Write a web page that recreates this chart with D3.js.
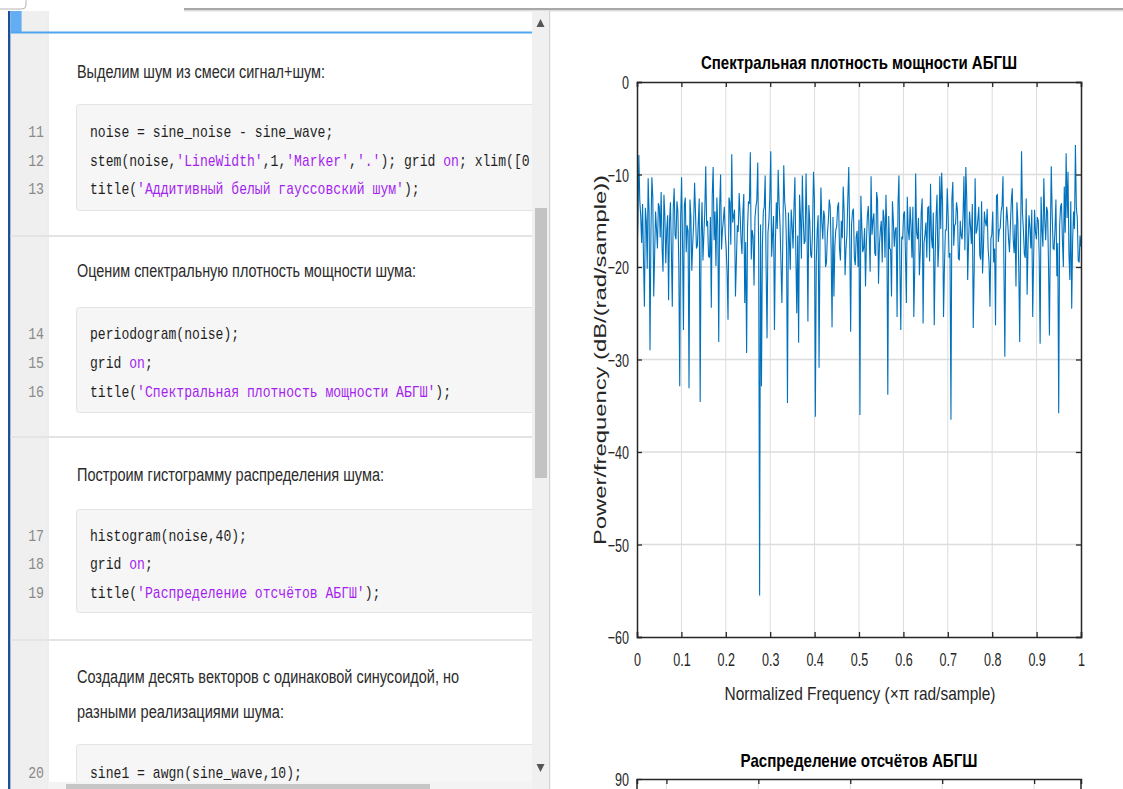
<!DOCTYPE html>
<html><head><meta charset="utf-8">
<script src="https://cdn.jsdelivr.net/npm/d3@7"></script>
<style>body{margin:0;background:#fff;overflow:hidden}svg{display:block}</style>
</head><body>
<svg id="c" width="1123" height="789"></svg>
<script>
// ---------- DATA ----------
// periodogram values (dB/(rad/sample)): main samples
const psdDbMain = [
-19,-7.9,-14.5,-13.2,-24.3,-15,-10.4,-29,-10.3,-23.2,-14,-18,-13.5,-11.9,-20.5,-14.5,-16,-23.6,-13,-24.3,
-11.5,-17,-14,-32.9,-10.3,-26.8,-12.5,-15.5,-33.1,-14.5,-17.5,-10.9,-18,-15,-34.6,-13,-16.5,-9.1,-15,-19,
-24.4,-9.2,-14,-12.5,-28.1,-10,-16,-13.5,-18,-25.7,-13,-7.8,-14.5,-23.2,-15.5,-12,-17,-14,-23.9,-29.3,
-12.9,-7.6,-16,-22,-13.5,-8.7,-55.5,-32.9,-14,-10.1,-27.7,-15,-7.5,-16.5,-26.8,-13,-9.5,-15.5,-23.9,-9,
-14,-34.7,-17,-13.8,-18,-10.3,-25,-28.2,-14.5,-10.1,-17.5,-9.9,-25.9,-15,-19,-9.7,-36.2,-16,-30.9,-11.4,
-17,-14.6,-19.5,-15,-13.5,-26.5,-23.2,-16,-13.5,-18,-15,-11.3,-20.9,-16.5,-9.2,-27,-14,-19,-16.7,-20,
-36,-15.5,-18,-22.1,-14.5,-16.5,-10.2,-15,-18.5,-11.9,-21.8,-16,-19.5,-14.7,-12.2,-33.8,-18,-23.2,-15,-16,
-25.4,-10.1,-26.8,-17,-14,-23.9,-16,-13.5,-19,-25.4,-9.9,-17,-20.9,-14,-26.1,-16.5,-19,-13.5,-11,-18,
-26.3,-14.5,-20,-10.2,-9.8,-25.4,-16,-11.5,-19,-36.5,-10.8,-15.5,-13,-19.1,-15,-17,-10.2,-9.2,-21.4,-14,
-17.5,-26.6,-10.4,-16,-13.5,-19.2,-20.7,-14,-15.6,-18,-24.3,-16.5,-19.5,-26.3,-12.2,-16,-14,-10.2,-29.7,-13.5,
-17,-15.5,-11.5,-18.5,-22.1,-15,-28.1,-7.5,-16,-19,-23,-14.4,-18,-25.4,-13.8,-17,-15,-28.3,-16,-10.4,
-17.1,-14,-27.4,-9.1,-18,-16,-21,-35.8,-13.5,-17.1,-11.3,-7.7,-9.7,-21.4,-24.5,-14,-6.8,-14.7,-19.5,-17.8
];
// in-between samples (one between each pair of main samples)
const psdDbMid = [
-15.2,-12.8,-17.4,-19.1,-13.6,-20.2,-14.1,-16.3,-12.4,-18.7,-15.9,-13.1,-16.8,-17.9,-12.2,-19.6,-14.4,-15.1,-18.2,-13.7,
-16.6,-12.9,-19.8,-14.8,-17.2,-13.3,-18.4,-16.1,-12.7,-20.4,-15.3,-14.2,-17.7,-12.6,-16.9,-19.3,-13.9,-15.6,-18.8,-14.6,
-12.3,-17.1,-19.9,-15.7,-13.4,-18.1,-14.9,-16.4,-20.6,-12.5,-17.6,-15.2,-13.8,-19.4,-16.2,-14.3,-18.6,-12.1,-17.3,-15.8,
-13.2,-19.2,-16.7,-14.7,-12.8,-18.3,-15.4,-17.8,-13.5,-20.1,-16.3,-12.4,-18.9,-14.5,-17.4,-15.9,-13.1,-19.7,-16.8,-12.9,
-17.9,-14.1,-20.3,-15.5,-13.6,-18.5,-16.6,-12.2,-19.1,-14.8,-17.2,-15.3,-13.3,-18.7,-16,-12.6,-19.5,-14.4,-17.5,-15.1,
-13.9,-20,-16.4,-12.7,-18.2,-14.6,-17.7,-15.6,-13,-19.3,-16.9,-14,-18,-12.5,-17,-15.4,-13.7,-19.8,-16.1,-14.9,
-12.3,-18.4,-15.8,-17.3,-13.4,-20.5,-16.5,-14.2,-18.8,-12.8,-17.6,-15,-13.8,-19,-16.2,-14.5,-18.1,-12.9,-17.8,-15.7,
-13.1,-19.6,-16.7,-14.3,-18.6,-12.4,-17.1,-15.5,-13.5,-20.2,-16.3,-14.7,-18.3,-12.6,-17.4,-15.2,-13.6,-19.4,-16.8,-14.1,
-18.9,-12.2,-17.5,-15.9,-13.3,-19.9,-16,-14.6,-18.5,-12.7,-17.7,-15.3,-13.9,-19.2,-16.6,-14.4,-18.2,-12.5,-17.2,-15.6,
-13.2,-20.4,-16.4,-14.8,-18.7,-12.9,-17.9,-15.1,-13.7,-19.5,-16.9,-14,-18,-12.3,-17.3,-15.8,-13.4,-19.7,-16.1,-14.9,
-18.4,-12.8,-17,-15.4,-13,-20.1,-16.5,-14.2,-18.6,-12.6,-17.6,-15.7,-13.8,-19.1,-16.2,-14.6,-18.8,-12.4,-17.8,-15,
-13.5,-19.6,-16.7,-14.3,-18.1,-12.7,-17.4,-15.5,-13.1,-20,-16.3,-14.7,-18.5,-12.9,-17.1,-15.9,-13.6,-19.3,-16.6
];
const freqTicks = [0,0.1,0.2,0.3,0.4,0.5,0.6,0.7,0.8,0.9,1];
const dbTicks = [0,-10,-20,-30,-40,-50,-60];
const histTicks = [-2,-1,0,1,2];
const histYTicks = [90];

const chartTitle = "Спектральная плотность мощности АБГШ";
const xLabel = "Normalized Frequency  (\u00D7\u03C0 rad/sample)";
const yLabel = "Power/frequency (dB/(rad/sample))";
const histTitle = "Распределение отсчётов АБГШ";

const proseLines = [
  "Выделим шум из смеси сигнал+шум:",
  "Оценим спектральную плотность мощности шума:",
  "Построим гистограмму распределения шума:",
  "Создадим десять векторов с одинаковой синусоидой, но",
  "разными реализациями шума:"
];
const codeNumbers = ["11","12","13","14","15","16","17","18","19","20"];
const codeLines = [
  [["noise = sine_noise - sine_wave;","c"]],
  [["stem(noise,","c"],["'LineWidth'","s"],[",1,","c"],["'Marker'","s"],[",","c"],["'.'","s"],["); grid ","c"],["on","s"],["; xlim([0 100]);","c"]],
  [["title(","c"],["'Аддитивный белый гауссовский шум'","s"],[");","c"]],
  [["periodogram(noise);","c"]],
  [["grid ","c"],["on","s"],[";","c"]],
  [["title(","c"],["'Спектральная плотность мощности АБГШ'","s"],[");","c"]],
  [["histogram(noise,40);","c"]],
  [["grid ","c"],["on","s"],[";","c"]],
  [["title(","c"],["'Распределение отсчётов АБГШ'","s"],[");","c"]],
  [["sine1 = awgn(sine_wave,10);","c"]]
];

// ---------- LAYOUT ----------
const svg = d3.select("#c");
const W = 1123, H = 789;
const sans = "'Liberation Sans', Arial, sans-serif";
const mono = "'Liberation Mono', 'DejaVu Sans Mono', monospace";

function fitWidth(sel, target){
  sel.each(function(){
    d3.select(this).attr("textLength", target).attr("lengthAdjust","spacingAndGlyphs");
  });
}
function squeeze(sel, k){
  sel.each(function(){
    const w = this.getComputedTextLength();
    d3.select(this).attr("textLength", w*k).attr("lengthAdjust","spacingAndGlyphs");
  });
}

// ---- top chrome ----
svg.append("rect").attr("x",-6).attr("y",-10).attr("width",32).attr("height",19).attr("rx",4)
  .attr("fill","#fff").attr("stroke","#b5b5b5");
svg.append("rect").attr("x",184).attr("y",8).attr("width",W-184).attr("height",2).attr("fill","#a8a8a8");
svg.append("rect").attr("x",184).attr("y",10).attr("width",W-184).attr("height",1.5).attr("fill","#dedede");

// ---- left editor panel ----
const left = svg.append("g");
left.append("rect").attr("x",8).attr("y",11).attr("width",2.6).attr("height",H).attr("fill","#1d4f9a");
left.append("rect").attr("x",10.6).attr("y",11).attr("width",37).attr("height",H).attr("fill","#efefef");
left.append("rect").attr("x",47.6).attr("y",11).attr("width",1).attr("height",H).attr("fill","#e2e2e2");
left.append("rect").attr("x",10.6).attr("y",11).attr("width",11).attr("height",21).attr("fill","#63aef2");
left.append("rect").attr("x",10.6).attr("y",31.5).attr("width",522).attr("height",2).attr("fill","#4ea6f0");

const clip = svg.append("clipPath").attr("id","lc");
clip.append("rect").attr("x",10).attr("y",34).attr("width",522).attr("height",H-34);
const content = left.append("g").attr("clip-path","url(#lc)");

const seps = [236, 437, 640];
seps.forEach(yv => {
  content.append("rect").attr("x",10.6).attr("y",yv-1).attr("width",522).attr("height",2).attr("fill","#e4e4e4");
});

const boxes = [[104,210],[307,412],[509,612],[744,800]];
boxes.forEach(b => {
  content.append("rect").attr("x",76.5).attr("y",b[0]+0.5).attr("width",520).attr("height",b[1]-b[0])
    .attr("rx",3).attr("fill","#f6f6f6").attr("stroke","#e3e3e3");
});

const proseY = [72, 271, 475, 677, 712];
const proseW = [248, 339, 307, 382, 207];
proseLines.forEach((t,i) => {
  const tx = content.append("text").attr("x",77).attr("y",proseY[i]).attr("dy","0.36em")
    .attr("font-family",sans).attr("font-size",18).attr("fill","#2b2b2b").text(t);
  fitWidth(tx, proseW[i]);
});

const codeY = [131,160,188,333,362,391,535,563,592,772];
const charW = 7.85;
codeLines.forEach((toks,i) => {
  const n = content.append("text").attr("x",44).attr("y",codeY[i]).attr("dy","0.36em")
    .attr("text-anchor","end").attr("font-family",mono).attr("font-size",16).attr("fill","#8a8a8a")
    .text(codeNumbers[i]);
  fitWidth(n, codeNumbers[i].length*7.9);
  const g = content.append("g").attr("transform",`translate(90,${codeY[i]}) scale(${charW/9.6},1)`);
  const t = g.append("text").attr("x",0).attr("y",0).attr("dy","0.36em")
    .attr("font-family",mono).attr("font-size",16).attr("fill","#1f1f1f").attr("xml:space","preserve");
  toks.forEach(tk => t.append("tspan").attr("fill", tk[1]==="s" ? "#a41ff0" : "#1f1f1f").text(tk[0]));
});

// scrollbars
left.append("rect").attr("x",532).attr("y",11).attr("width",17).attr("height",H).attr("fill","#f0f0f0");
left.append("rect").attr("x",535).attr("y",208).attr("width",12).attr("height",270).attr("fill","#c3c3c3");
left.append("rect").attr("x",549).attr("y",11).attr("width",1.2).attr("height",H).attr("fill","#d2d2d2");
left.append("path").attr("d","M536.5,27 L544.5,27 L540.5,19 Z").attr("fill","#555");
left.append("path").attr("d","M536.5,764 L544.5,764 L540.5,772 Z").attr("fill","#555");
left.append("rect").attr("x",48).attr("y",782).attr("width",484).attr("height",7).attr("fill","#f3f3f3");
left.append("rect").attr("x",66).attr("y",784).attr("width",364).attr("height",5).attr("fill","#c6c6c6");

// ---------- PERIODOGRAM CHART ----------
const axL = 637, axR = 1081, axT = 82, axB = 637;
const x = d3.scaleLinear().domain([0,1]).range([axL,axR]);
const y = d3.scaleLinear().domain([-60,0]).range([axB,axT]);
const ch = svg.append("g");
const axisCol = "#262626";

ch.append("g").selectAll("line").data(freqTicks.slice(1,-1)).join("line")
  .attr("x1",d=>x(d)).attr("x2",d=>x(d)).attr("y1",axT).attr("y2",axB)
  .attr("stroke","#dcdcdc").attr("stroke-width",1);
ch.append("g").selectAll("line").data(dbTicks.slice(1,-1)).join("line")
  .attr("x1",axL).attr("x2",axR).attr("y1",d=>y(d)).attr("y2",d=>y(d))
  .attr("stroke","#dcdcdc").attr("stroke-width",1.5);

// combine main + in-between samples in order
const psdDb = [];
psdDbMain.forEach((v,i) => { psdDb.push(v); if (i < psdDbMid.length) psdDb.push(psdDbMid[i]); });
const psd = psdDb.map((v,i) => [i/(psdDb.length-1), v]);
const cl = svg.append("clipPath").attr("id","pc");
cl.append("rect").attr("x",axL).attr("y",axT).attr("width",axR-axL).attr("height",axB-axT);
ch.append("path").datum(psd).attr("clip-path","url(#pc)")
  .attr("d", d3.line().x(d=>x(d[0])).y(d=>y(d[1])))
  .attr("fill","none").attr("stroke","#0072bd").attr("stroke-width",1.1);

const xa = ch.append("g").attr("transform",`translate(0,${axB})`)
  .call(d3.axisBottom(x).tickValues(freqTicks).tickFormat(d3.format("~g")).tickSize(-5).tickPadding(16));
const ya = ch.append("g").attr("transform",`translate(${axL},0)`)
  .call(d3.axisLeft(y).tickValues(dbTicks).tickFormat(d3.format("~g")).tickSize(-5).tickPadding(8));
const xt = ch.append("g").attr("transform",`translate(0,${axT})`)
  .call(d3.axisTop(x).tickValues(freqTicks).tickSize(-5).tickFormat(""));
const yr = ch.append("g").attr("transform",`translate(${axR},0)`)
  .call(d3.axisRight(y).tickValues(dbTicks).tickSize(-5).tickFormat(""));
[xa,ya,xt,yr].forEach(a => {
  a.select(".domain").attr("stroke",axisCol).attr("stroke-width",1.5);
  a.selectAll(".tick line").attr("stroke",axisCol).attr("stroke-width",1.3);
  a.selectAll("text").attr("fill",axisCol).attr("font-family",sans).attr("font-size",19);
});
squeeze(xa.selectAll("text"), 0.66);
squeeze(ya.selectAll("text"), 0.66);
ya.selectAll("text").attr("dy","0.36em");

const ct = ch.append("text").attr("x",(axL+axR)/2).attr("y",62).attr("dy","0.36em")
  .attr("text-anchor","middle").attr("font-family",sans).attr("font-weight","bold")
  .attr("font-size",19).attr("fill","#000").text(chartTitle);
fitWidth(ct, 316);
const xl = ch.append("text").attr("x",(axL+axR)/2+1).attr("y",693).attr("dy","0.36em")
  .attr("text-anchor","middle").attr("font-family",sans).attr("font-size",19).attr("fill",axisCol).text(xLabel);
fitWidth(xl, 271);
const yl = ch.append("text").attr("transform",`translate(600,${(175+545)/2}) rotate(-90)`).attr("dy","0.36em")
  .attr("text-anchor","middle").attr("font-family",sans).attr("font-size",16).attr("fill",axisCol).text(yLabel);
fitWidth(yl, 370);

// ---------- HISTOGRAM (top edge visible) ----------
const hx = d3.scaleLinear().domain([-2.32,2.51]).range([axL,axR]);
const hy = d3.scaleLinear().domain([0,90]).range([1334,779]);
const hg = svg.append("g");
hg.selectAll("line").data(histTicks).join("line")
  .attr("x1",d=>hx(d)).attr("x2",d=>hx(d)).attr("y1",hy(90)).attr("y2",H)
  .attr("stroke","#dcdcdc");
const hxa = hg.append("g").attr("transform",`translate(0,${hy(90)})`)
  .call(d3.axisTop(hx).tickValues(histTicks).tickSize(-5).tickFormat(""));
const hya = hg.append("g").attr("transform",`translate(${axL},0)`)
  .call(d3.axisLeft(hy).tickValues(histYTicks).tickSize(-5).tickPadding(8));
hg.append("line").attr("x1",axL).attr("x2",axL).attr("y1",hy(90)).attr("y2",H).attr("stroke",axisCol).attr("stroke-width",1.5);
hg.append("line").attr("x1",axR).attr("x2",axR).attr("y1",hy(90)).attr("y2",H).attr("stroke",axisCol).attr("stroke-width",1.5);
[hxa,hya].forEach(a => {
  a.select(".domain").attr("stroke",axisCol).attr("stroke-width",1.5);
  a.selectAll(".tick line").attr("stroke",axisCol).attr("stroke-width",1.3);
  a.selectAll("text").attr("fill",axisCol).attr("font-family",sans).attr("font-size",19).attr("dy","0.36em");
});
hya.select(".domain").remove();
squeeze(hya.selectAll("text"), 0.66);
const ht = hg.append("text").attr("x",(axL+axR)/2).attr("y",760).attr("dy","0.36em")
  .attr("text-anchor","middle").attr("font-family",sans).attr("font-weight","bold")
  .attr("font-size",19).attr("fill","#000").text(histTitle);
fitWidth(ht, 237);
</script>
</body></html>
